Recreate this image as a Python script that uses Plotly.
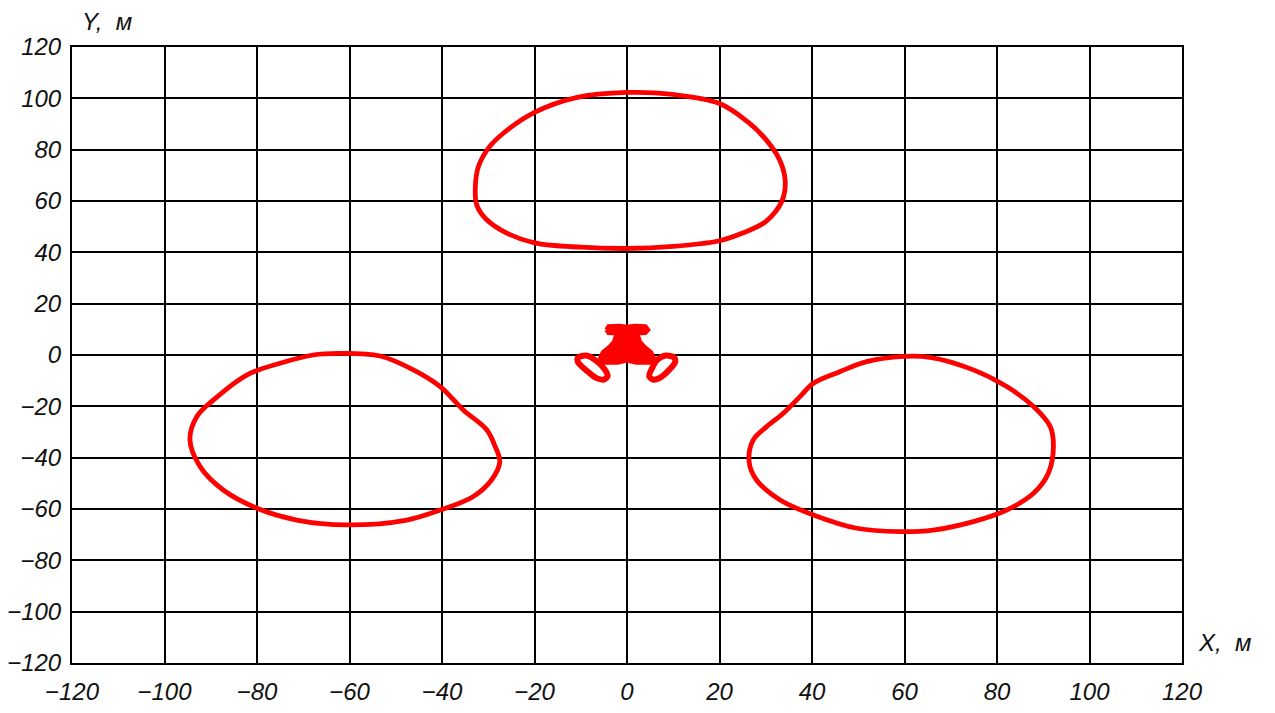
import plotly.graph_objects as go

# Contour outlines (X, Y in metres)
top_x = [-32.8, -32.2, -30.0, -27.0, -20.0, -11.0, 0.0, 10.0, 20.0, 26.0, 30.0, 33.0,
         34.2, 33.5, 30.0, 25.0, 20.0, 10.0, 0.0, -10.0, -20.0, -26.0, -30.5, -32.5]
top_y = [65.0, 73.0, 80.5, 86.0, 94.5, 100.3, 102.3, 101.5, 98.0, 91.0, 84.0, 76.0,
         68.0, 60.0, 52.0, 47.5, 44.5, 42.3, 41.5, 42.0, 43.7, 47.5, 53.0, 58.5]

left_x = [-94.5, -93.0, -89.4, -82.2, -75.0, -67.9, -62.0, -53.4, -46.2, -40.4, -35.4, -30.3,
          -28.5, -27.5, -29.3, -33.3, -40.4, -47.6, -60.6, -71.4, -80.0, -87.3, -92.3]
left_y = [-33.1, -24.0, -17.5, -7.8, -3.2, 0.0, 0.6, -0.4, -5.8, -12.3, -21.4, -29.2,
          -35.7, -41.6, -48.7, -55.2, -60.4, -64.3, -66.2, -64.3, -59.7, -52.6, -43.5]

right_x = [26.4, 27.3, 30.2, 33.8, 37.4, 40.3, 46.0, 51.8, 59.0, 65.5, 74.9, 82.1, 87.9,
           91.5, 92.2, 91.1, 87.9, 82.1, 74.9, 66.2, 59.0, 49.7, 40.3, 33.1, 28.0]
right_y = [-41.6, -33.1, -27.9, -22.7, -16.2, -11.0, -6.5, -2.6, -0.6, -0.9, -5.8, -12.3, -20.1,
           -27.9, -35.7, -46.1, -53.9, -60.4, -64.9, -68.2, -68.8, -67.5, -62.3, -56.5, -48.7]

# Small contours near the origin
bar_x = [-4.5, -4.0, -1.5, 0.0, 1.5, 4.0, 4.6, 4.0, 1.5, 0.0, -1.5, -4.0]
bar_y = [9.8, 11.2, 11.4, 11.0, 11.4, 11.2, 9.8, 8.6, 8.4, 8.6, 8.4, 8.6]

body_x = [0.0, 2.4, 2.8, 3.8, 5.2, 5.8, 5.3, 2.0, 0.0, -2.0, -5.3, -5.8, -5.2, -3.8, -2.8, -2.4]
body_y = [8.2, 7.6, 5.2, 3.2, 1.2, -1.0, -3.0, -3.0, -2.2, -3.0, -3.0, -1.0, 1.2, 3.2, 5.2, 7.6]

lpet_x = [-10.6, -8.8, -7.0, -5.0, -4.2, -5.0, -6.8, -8.8, -10.6]
lpet_y = [-1.0, -0.2, -1.8, -5.2, -8.2, -9.6, -8.8, -6.0, -2.8]

rpet_x = [10.2, 8.4, 6.6, 5.4, 4.8, 5.6, 7.2, 9.0, 10.4]
rpet_y = [-1.0, -0.2, -1.8, -5.2, -8.2, -9.6, -8.8, -6.0, -2.8]

tick_vals = list(range(-120, 121, 20))

RED = "#ff0000"


def closed(xs, ys):
    return xs + xs[:1], ys + ys[:1]


fig = go.Figure()

for xs, ys in [(top_x, top_y), (left_x, left_y), (right_x, right_y)]:
    cx, cy = closed(xs, ys)
    fig.add_trace(go.Scatter(x=cx, y=cy, mode="lines",
                             line=dict(color=RED, width=4.8, shape="spline", smoothing=1.0),
                             hoverinfo="skip"))

for xs, ys in [(lpet_x, lpet_y), (rpet_x, rpet_y)]:
    cx, cy = closed(xs, ys)
    fig.add_trace(go.Scatter(x=cx, y=cy, mode="lines",
                             line=dict(color=RED, width=6, shape="spline", smoothing=0.8),
                             hoverinfo="skip"))

for xs, ys in [(bar_x, bar_y), (body_x, body_y)]:
    cx, cy = closed(xs, ys)
    fig.add_trace(go.Scatter(x=cx, y=cy, mode="lines", fill="toself", fillcolor=RED,
                             line=dict(color=RED, width=4), hoverinfo="skip"))

tick_font = dict(family="Liberation Sans", size=24, color="#111111", style="italic")

axis_common = dict(
    range=[-120, 120],
    tickmode="array",
    tickvals=tick_vals,
    showgrid=True,
    gridcolor="#000000",
    gridwidth=2,
    zeroline=False,
    showline=True,
    linecolor="#000000",
    linewidth=2,
    mirror=True,
    ticks="",
    tickfont=tick_font,
    fixedrange=True,
    automargin=False,
)

fig.update_xaxes(**axis_common, ticklabelstandoff=6)
fig.update_yaxes(**axis_common, ticklabelstandoff=4)

title_font = dict(family="Liberation Sans", size=24, color="#111111", style="italic")
fig.add_annotation(text="Y,  м", xref="paper", yref="paper", x=0.0315, y=1.042,
                   xanchor="center", yanchor="middle", showarrow=False, font=title_font)
fig.add_annotation(text="X,  м", xref="paper", yref="paper", x=1.038, y=0.034,
                   xanchor="center", yanchor="middle", showarrow=False, font=title_font)

fig.update_layout(
    width=1275,
    height=713,
    margin=dict(l=72, r=93, t=47, b=50),
    paper_bgcolor="#ffffff",
    plot_bgcolor="#ffffff",
    showlegend=False,
)

fig.write_html("out.html")
